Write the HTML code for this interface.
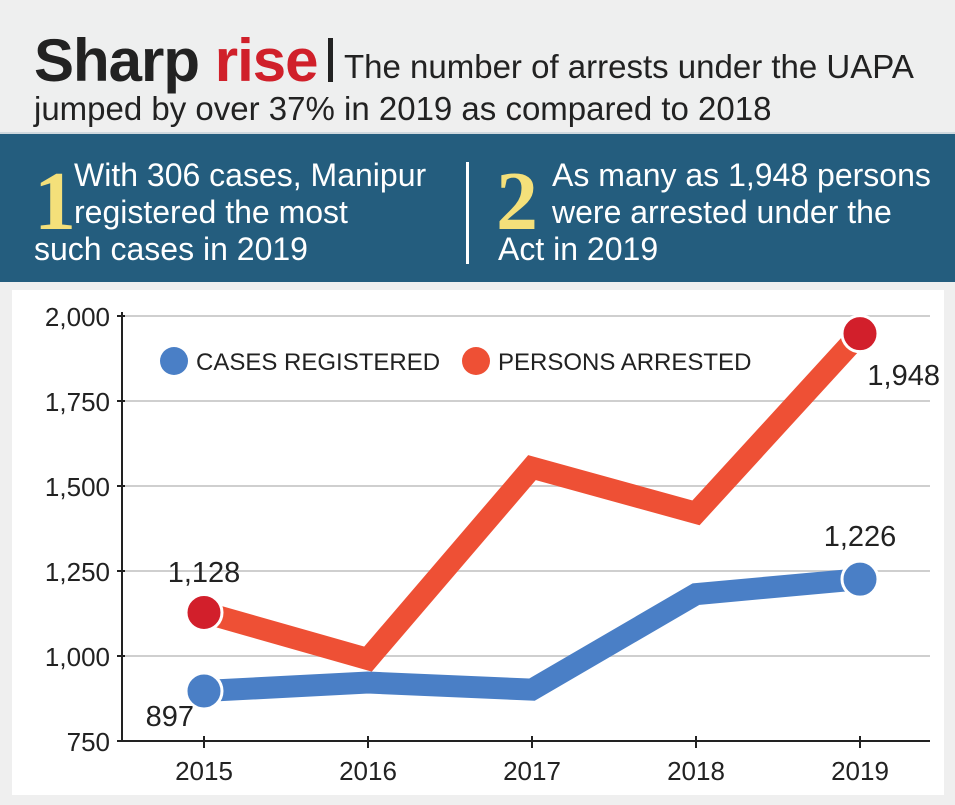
<!DOCTYPE html>
<html><head><meta charset="utf-8">
<style>
body{margin:0;width:955px;height:805px;background:#efefef;overflow:hidden;font-family:"Liberation Sans",sans-serif;position:relative}
.hdr{position:absolute;left:0;top:10px;width:955px;height:110px;background:#eeefef}
.t1{position:absolute;left:34px;top:26px;font-size:60px;font-weight:bold;color:#222;letter-spacing:-1px;white-space:nowrap}
.t1 .r{color:#d0202a}
.bar{position:absolute;left:328px;top:38px;width:5px;height:44px;background:#222}
.sub1{position:absolute;left:344px;top:48px;font-size:33px;color:#222;white-space:nowrap}
.sub2{position:absolute;left:34px;top:90px;font-size:33px;color:#222;white-space:nowrap}
.band{position:absolute;left:0;top:132px;width:955px;height:148px;background:#245d7e;border-top:2px solid #cfd8de}
.num{position:absolute;font-family:"Liberation Serif",serif;font-weight:bold;color:#f4e07a;font-size:84px;line-height:84px}
.bt{position:absolute;color:#fff;font-size:32px;line-height:37px;white-space:nowrap}
.div{position:absolute;left:466px;top:162px;width:3px;height:102px;background:#fff}
.panel{position:absolute;left:12px;top:290px;width:932px;height:505px;background:#fff}
svg{position:absolute;left:0;top:0}
svg text{font-family:"Liberation Sans",sans-serif}
</style></head><body>
<div class="hdr"></div>
<div class="t1">Sharp <span class="r">rise</span></div>
<div class="bar"></div>
<div class="sub1">The number of arrests under the UAPA</div>
<div class="sub2">jumped by over 37% in 2019 as compared to 2018</div>
<div class="band"></div>
<div class="num" style="left:34px;top:160px">1</div>
<div class="bt" style="left:74px;top:157px">With 306 cases, Manipur<br>registered the most</div>
<div class="bt" style="left:34px;top:231px">such cases in 2019</div>
<div class="div"></div>
<div class="num" style="left:496px;top:160px">2</div>
<div class="bt" style="left:552px;top:157px">As many as 1,948 persons<br>were arrested under the</div>
<div class="bt" style="left:498px;top:231px">Act in 2019</div>
<div class="panel"></div>
<svg id="chart" width="955" height="805"></svg>
<script>
const years=["2015","2016","2017","2018","2019"];
const cases=[897,922,901,1182,1226];
const arrests=[1128,991,1554,1421,1948];
const yTicks=[750,1000,1250,1500,1750,2000];
const yTickLabels=["750","1,000","1,250","1,500","1,750","2,000"];
const NS="http://www.w3.org/2000/svg";
const svg=document.getElementById('chart');
const x=i=>204+i*164;
const y=v=>741-(v-750)*0.34;
function mk(t,a){const e=document.createElementNS(NS,t);for(const k in a)e.setAttribute(k,a[k]);svg.appendChild(e);return e;}
yTicks.forEach((t,i)=>{
  if(i>0){const g=mk('line',{x1:122,x2:930,y1:y(t),y2:y(t),stroke:'#cfcfcf','stroke-width':2});
  
  }
  const tk=mk('line',{x1:117,x2:125,y1:y(t),y2:y(t),stroke:'#222','stroke-width':2});
  
  
  const l=mk('text',{x:110,y:y(t)+10,'text-anchor':'end','font-size':26,fill:'#222'});
  l.textContent=yTickLabels[i];
  
  
});
const ya=mk('line',{x1:122,x2:122,y1:312,y2:741,stroke:'#222','stroke-width':2});


const xa=mk('line',{x1:121,x2:930,y1:741,y2:741,stroke:'#222','stroke-width':2});


years.forEach((yr,i)=>{
  const tk=mk('line',{x1:x(i),x2:x(i),y1:736,y2:748,stroke:'#222','stroke-width':2});
  
  
  const l=mk('text',{x:x(i),y:780,'text-anchor':'middle','font-size':26,fill:'#222'});
  l.textContent=yr;
  
  
});
function series(vals,color,dot,name){
  const p=mk('polyline',{points:vals.map((v,i)=>x(i)+','+y(v)).join(' '),fill:'none',stroke:color,'stroke-width':22,'stroke-linejoin':'miter'});
  
  
  [0,vals.length-1].forEach(i=>{
    const c=mk('circle',{cx:x(i),cy:y(vals[i]),r:18,fill:dot,stroke:'#fff','stroke-width':3});
    
    
  });
}
series(arrests,'#ee5035','#d21f2b','persons-arrested');
series(cases,'#4a7fc6','#4a7fc6','cases-registered');
function lbl(txt,xx,yy,anchor,name){const t=mk('text',{x:xx,y:yy,'text-anchor':anchor,'font-size':29,fill:'#222'});t.textContent=txt;
  
  }
lbl(arrests[0].toLocaleString('en-US'),x(0),582,'middle','arrests-2015-label');
lbl(arrests[4].toLocaleString('en-US'),x(4)+80,385,'end','arrests-2019-label');
lbl(cases[0].toLocaleString('en-US'),x(0)-10,726,'end','cases-2015-label');
lbl(cases[4].toLocaleString('en-US'),x(4),546,'middle','cases-2019-label');
const l1=mk('circle',{cx:174,cy:361,r:14,fill:'#4a7fc6'});


const lt1=mk('text',{x:196,y:370,'font-size':24,fill:'#222'});lt1.textContent='CASES REGISTERED';


const l2=mk('circle',{cx:476,cy:361,r:14,fill:'#ee5035'});


const lt2=mk('text',{x:498,y:370,'font-size':24,fill:'#222'});lt2.textContent='PERSONS ARRESTED';


</script>
</body></html>
